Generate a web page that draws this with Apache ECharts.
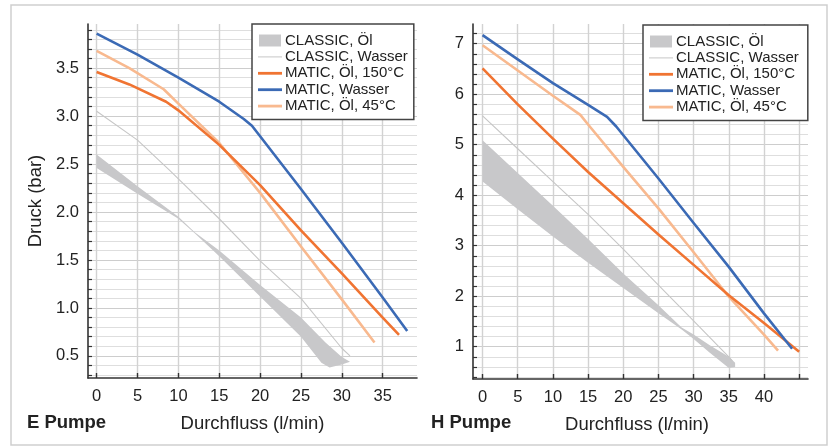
<!DOCTYPE html>
<html>
<head>
<meta charset="utf-8">
<script src="https://cdn.jsdelivr.net/npm/echarts@6/dist/echarts.min.js"></script>
<style>
html,body{margin:0;padding:0;background:#fff;}
#c{width:833px;height:446px;}
</style>
</head>
<body>
<div id="c"></div>
<script>
// ---------- data ----------
const seriesNames = ['CLASSIC, Öl', 'CLASSIC, Wasser', 'MATIC, Öl, 150°C', 'MATIC, Wasser', 'MATIC, Öl, 45°C'];

// E Pumpe
const eXTicks = [0, 5, 10, 15, 20, 25, 30, 35];
const eYLabels = [0.5, 1.0, 1.5, 2.0, 2.5, 3.0, 3.5];
const eClassicOelUpper = [[0,2.60],[5,2.27],[10,1.95],[12,1.79],[15,1.60],[20,1.24],[25,0.90],[28,0.64],[30,0.49],[31,0.44]];
const eClassicOelLower = [[0,2.46],[5,2.19],[10,1.93],[12,1.78],[15,1.54],[20,1.12],[25,0.70],[27.5,0.43],[28.5,0.38],[30,0.41],[31,0.44]];
const eClassicWasser = [[0,3.05],[5,2.75],[9,2.43],[15,1.93],[20,1.49],[25,1.10],[30,0.58],[31,0.50]];
const eMaticOel150 = [[0,3.46],[4,3.33],[8.5,3.15],[10,3.06],[15,2.70],[20,2.28],[25,1.81],[30,1.36],[35,0.90],[37,0.72]];
const eMaticWasser = [[0,3.86],[5,3.64],[10,3.40],[15,3.15],[18,2.97],[19,2.90],[20,2.79],[25,2.24],[30,1.68],[35,1.11],[38,0.76]];
const eMaticOel45 = [[0,3.68],[4,3.50],[8.2,3.28],[10,3.13],[15,2.72],[20,2.20],[25,1.64],[30,1.09],[34,0.64]];

// H Pumpe
const hXTicks = [0, 5, 10, 15, 20, 25, 30, 35, 40, 45];
const hXLabels = [0, 5, 10, 15, 20, 25, 30, 35, 40];
const hYLabels = [1, 2, 3, 4, 5, 6, 7];
const hClassicOelUpper = [[0,5.09],[5,4.44],[10,3.79],[15,3.13],[20,2.45],[25,1.82],[28.3,1.38],[30,1.24],[32.3,1.03],[35,0.80],[35.9,0.68]];
const hClassicOelLower = [[0,4.27],[5,3.72],[10,3.18],[15,2.66],[20,2.16],[25,1.66],[28.3,1.34],[30,1.15],[32.3,0.88],[35,0.58],[35.9,0.60]];
const hClassicWasser = [[0,5.57],[5,4.92],[10,4.27],[15,3.62],[20,2.93],[25,2.22],[30,1.51],[35,0.80],[35.5,0.72]];
const hMaticOel150 = [[0,6.51],[5,5.80],[10,5.12],[15,4.46],[20,3.84],[25,3.22],[30,2.62],[35,2.02],[40,1.47],[45,0.90]];
const hMaticWasser = [[0,7.17],[5,6.69],[10,6.22],[15,5.79],[17.7,5.55],[19,5.36],[25,4.33],[30,3.45],[35,2.58],[40,1.66],[44,0.96]];
const hMaticOel45 = [[0,6.97],[5,6.47],[10,5.97],[13.9,5.59],[15,5.40],[20,4.56],[25,3.74],[30,2.87],[35,1.99],[40,1.24],[42,0.92]];

// ---------- styles ----------
const FONT = '"Liberation Sans", Arial, Helvetica, sans-serif';
const C_BAND = '#c8c8ca', C_WASSER = '#c6c6c6', C_OEL150 = '#f07432', C_WASSERM = '#3b6ab5', C_OEL45 = '#f8b98f';
const GRID_MAJOR = '#cdcdcd', GRID_MINOR = '#dedede';
const ICON_THICK = 'path://M0,0L0,0M0,4.6L24,4.6L24,7.4L0,7.4ZM24,12L24,12';
const ICON_THIN = 'path://M0,0L0,0M0,5.5L24,5.5L24,6.5L0,6.5ZM24,12L24,12';
const ICON_BAND = 'path://M0,0L0,0M1,0L23,0L23,12L1,12ZM24,12L24,12';

function steps(from, to, step) {
  const out = [];
  const n = Math.round((to - from) / step);
  for (let i = 0; i <= n; i++) out.push(Math.round((from + i * step) * 1000) / 1000);
  return out;
}
const eYTicks = steps(0.3, 3.9, 0.1);
const hYTicks = steps(0.4, 7.2, 0.2);

function bandSeries(name, upper, lower, idx) {
  return {
    type: 'custom', name: name, xAxisIndex: idx, yAxisIndex: idx,
    coordinateSystem: 'cartesian2d',
    itemStyle: { color: C_BAND },
    data: [upper[0]],
    renderItem: function (params, api) {
      const pts = upper.map(p => api.coord(p)).concat(lower.slice().reverse().map(p => api.coord(p)));
      return { type: 'polygon', shape: { points: pts }, style: { fill: C_BAND } };
    },
    z: 1
  };
}
function lineSeries(name, data, color, width, idx) {
  return {
    type: 'line', name: name, xAxisIndex: idx, yAxisIndex: idx,
    data: data, symbol: 'none', showSymbol: false,
    lineStyle: { color: color, width: width, join: 'round', cap: 'butt' },
    itemStyle: { color: color },
    z: 2
  };
}
function xAxisCfg(idx, min, max, ticks, labels, nameShift) {
  return {
    type: 'value', gridIndex: idx, min: min, max: max,
    name: 'Durchfluss (l/min)', nameLocation: 'middle', nameGap: 36,
    nameTextStyle: { fontSize: 18.5, color: '#222', fontFamily: FONT, padding: [0, nameShift, 0, 0] },
    axisLine: { show: true, onZero: false, lineStyle: { color: '#333', width: 1.6 } },
    axisTick: { show: true, inside: true, length: 5, customValues: ticks, lineStyle: { color: '#333', width: 1.4 } },
    axisLabel: { show: true, customValues: labels, fontSize: 16.5, color: '#222', margin: 10, fontFamily: FONT },
    splitLine: { show: true, lineStyle: { color: '#d2d2d2', width: 1.4 } }
  };
}
function yAxisCfg(idx, min, max, ticks, labels, colors, name, fmt) {
  return {
    type: 'value', gridIndex: idx, min: min, max: max,
    name: name, nameLocation: 'middle', nameRotate: 90, nameGap: 43,
    nameTextStyle: { fontSize: 18.5, color: '#222', fontFamily: FONT },
    axisLine: { show: true, onZero: false, lineStyle: { color: '#333', width: 1.6 } },
    axisTick: { show: true, inside: true, length: 4, customValues: ticks, lineStyle: { color: '#333', width: 1.2 } },
    axisLabel: { show: true, customValues: labels, fontSize: 16.5, color: '#222', margin: 9, fontFamily: FONT, formatter: fmt },
    splitLine: { show: true, lineStyle: { color: colors, width: 1.2 } }
  };
}
function legendCfg(left, top, padRight) {
  return {
    orient: 'vertical', left: left, top: top,
    padding: [9, padRight, 6, 6],
    itemWidth: 24, itemHeight: 12, itemGap: 1.4,
    backgroundColor: '#fff', borderColor: '#444', borderWidth: 1.5, borderRadius: 0,
    selectedMode: false,
    textStyle: { fontSize: 15, color: '#222', fontFamily: FONT, padding: [0, 0, 0, -2] },
    data: [
      { name: seriesNames[0], icon: ICON_BAND, itemStyle: { color: C_BAND } },
      { name: seriesNames[1], icon: ICON_THIN, itemStyle: { color: C_WASSER } },
      { name: seriesNames[2], icon: ICON_THICK, itemStyle: { color: C_OEL150 } },
      { name: seriesNames[3], icon: ICON_THICK, itemStyle: { color: C_WASSERM } },
      { name: seriesNames[4], icon: ICON_THICK, itemStyle: { color: C_OEL45 } }
    ]
  };
}

const option = {
  animation: false,
  textStyle: { fontFamily: FONT },
  grid: [
    { left: 88, top: 24, width: 329, height: 354 },
    { left: 473, top: 24, width: 335, height: 355 }
  ],
  xAxis: [
    xAxisCfg(0, -1.06, 39.2, eXTicks, eXTicks, 0),
    xAxisCfg(1, -1.36, 46.26, hXTicks, hXLabels, 7)
  ],
  yAxis: [
    yAxisCfg(0, 0.27, 3.96, eYTicks, eYLabels, [GRID_MINOR, GRID_MINOR, GRID_MAJOR, GRID_MINOR, GRID_MINOR], 'Druck (bar)', v => v.toFixed(1)),
    yAxisCfg(1, 0.36, 7.39, hYTicks, hYLabels, [GRID_MINOR, GRID_MINOR, GRID_MINOR, GRID_MAJOR, GRID_MINOR], '', v => String(v))
  ],
  legend: [legendCfg(252, 24, 6), legendCfg(643, 25, 9)],
  graphic: [
    { type: 'rect', shape: { x: 11, y: 5, width: 816, height: 440 }, style: { fill: 'none', stroke: '#cfcfcf', lineWidth: 1.5 }, silent: true },
    { type: 'text', left: 27, top: 413, style: { text: 'E Pumpe', font: 'bold 18.5px ' + FONT, fill: '#222' } },
    { type: 'text', left: 431, top: 413, style: { text: 'H Pumpe', font: 'bold 18.5px ' + FONT, fill: '#222' } }
  ],
  series: [
    bandSeries(seriesNames[0], eClassicOelUpper, eClassicOelLower, 0),
    lineSeries(seriesNames[1], eClassicWasser, C_WASSER, 1.1, 0),
    lineSeries(seriesNames[4], eMaticOel45, C_OEL45, 2.6, 0),
    lineSeries(seriesNames[2], eMaticOel150, C_OEL150, 2.6, 0),
    lineSeries(seriesNames[3], eMaticWasser, C_WASSERM, 2.6, 0),
    bandSeries(seriesNames[0], hClassicOelUpper, hClassicOelLower, 1),
    lineSeries(seriesNames[1], hClassicWasser, C_WASSER, 1.1, 1),
    lineSeries(seriesNames[4], hMaticOel45, C_OEL45, 2.6, 1),
    lineSeries(seriesNames[2], hMaticOel150, C_OEL150, 2.6, 1),
    lineSeries(seriesNames[3], hMaticWasser, C_WASSERM, 2.6, 1)
  ]
};
const chart = echarts.init(document.getElementById('c'), null, { renderer: 'canvas' });
chart.setOption(option);
</script>
</body>
</html>
